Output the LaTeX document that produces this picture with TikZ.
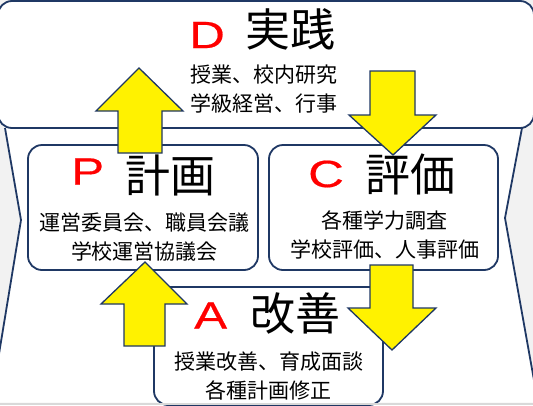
\documentclass[tikz,border=0pt]{standalone}
\usepackage{fontspec}
\setmainfont{Liberation Sans}
\newfontfamily\jp{Noto Sans CJK JP}
\newfontfamily\letterfont[FakeStretch=1.3,FakeBold=0.5]{Liberation Sans}
\definecolor{navy}{HTML}{1F3864}
\definecolor{bggray}{HTML}{F2F2F2}
\definecolor{edgegray}{HTML}{D9D9D9}
\begin{document}
\begin{tikzpicture}[x=1pt,y=-1pt,
  box/.style={draw=navy, line width=1.8pt, fill=white, rounded corners=14pt, inner sep=0pt},
  barrow/.style={draw=navy, line width=1.3pt, fill=yellow, line join=miter},
  letter/.style={text=red, font=\letterfont\fontsize{38}{38}\selectfont, inner sep=0pt},
  title/.style={font=\jp\fontsize{45}{45}\selectfont, inner sep=0pt},
  sub/.style={font=\jp\fontsize{21}{29}\selectfont, align=center, inner sep=0pt},
  side/.style={draw=navy, line width=1.8pt, line join=miter}]
\fill[bggray] (0,0) rectangle (533,405);
\useasboundingbox (0,0) rectangle (533,405);
% white funnel
\fill[white] (5,128) -- (522,128) -- (505,218) -- (538,402.5) -- (-9,402.5) -- (21,220) -- cycle;
\coordinate (L1) at (5,128); \coordinate (L2) at (21,220); \coordinate (L3) at (-9,402.5);
\coordinate (R1) at (522,128); \coordinate (R2) at (505,218); \coordinate (R3) at (538,402.5);
\draw[side] (L1) -- (L2) -- (L3);
\draw[side] (R1) -- (R2) -- (R3);
% boxes
\node[box, minimum width=536pt, minimum height=127pt] (D) at (266,64.5) {};
\node[box, minimum width=230pt, minimum height=125pt] (P) at (143,207.5) {};
\node[box, minimum width=229pt, minimum height=125pt] (C) at (383.5,207.5) {};
\node[box, minimum width=229pt, minimum height=118pt] (A) at (268.5,346) {};
\draw[edgegray, line width=1.5pt] (0,404) -- (533,404);
% titles
\node[letter, anchor=west] (Dl) at (189,35) {D};
\node[title, anchor=west] (Dt) at (245,29) {実践};
\node[letter, anchor=west] (Pl) at (71,171.5) {P};
\node[title, anchor=west] (Pt) at (125,175) {計画};
\node[letter, anchor=west] (Cl) at (308,174) {C};
\node[title, anchor=west] (Ct) at (365,174) {評価};
\node[letter, anchor=west] (Al) at (194,315.5) {A};
\node[title, anchor=west] (At) at (250,313) {改善};
% sub texts
\node[sub] (Ds) at (264,89) {授業、校内研究\\学級経営、行事};
\node[sub] (Ps) at (144.5,237) {運営委員会、職員会議\\学校運営協議会};
\node[sub] (Cs) at (384.5,235) {各種学力調査\\学校評価、人事評価};
\node[sub] (As) at (268.5,376) {授業改善、育成面談\\各種計画修正};
% block arrows
\draw[barrow] (118,153) -- (118,111) -- (96,111) -- (139,68) -- (183,111) -- (162,111) -- (162,153) -- cycle;
\draw[barrow] (370,71) -- (415,71) -- (415,115) -- (436,115) -- (393,155) -- (349,115) -- (370,115) -- cycle;
\draw[barrow] (124,346) -- (124,304) -- (101,304) -- (145,262) -- (187,304) -- (165,304) -- (165,346) -- cycle;
\draw[barrow] (370,265) -- (413,265) -- (413,308) -- (436,308) -- (392,350) -- (348,308) -- (370,308) -- cycle;
\end{tikzpicture}
\end{document}
